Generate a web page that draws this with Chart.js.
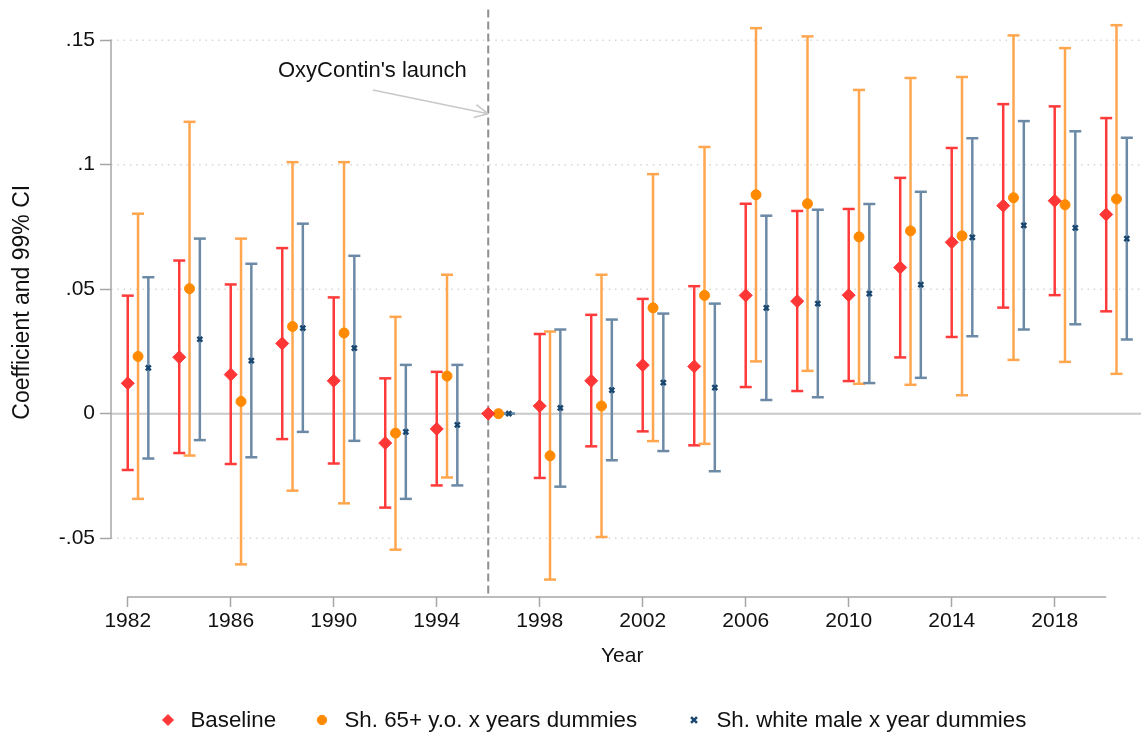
<!DOCTYPE html>
<html>
<head>
<meta charset="utf-8">
<title>Event-study coefficients</title>
<script src="https://cdn.jsdelivr.net/npm/chart.js@4.4.1/dist/chart.umd.min.js"></script>
<style>
  html, body { margin: 0; padding: 0; background: #fff; }
</style>
</head>
<body>
<canvas id="chartCoef" width="1141" height="737"></canvas>
<script>
(function () {
  'use strict';

  // Event years (1996 = reference year, normalised to 0)
  var YEARS = [1982, 1984, 1986, 1988, 1990, 1992, 1994, 1996, 1998, 2000,
               2002, 2004, 2006, 2008, 2010, 2012, 2014, 2016, 2018, 2020];

  var BASE_COEF = [0.0122, 0.0227, 0.0157, 0.0282, 0.0132, -0.0118, -0.0061, 0, 0.0031, 0.0132,
                   0.0195, 0.0190, 0.0475, 0.0452, 0.0476, 0.0587, 0.0688, 0.0835, 0.0855, 0.0800];
  var BASE_LO = [-0.0226, -0.0158, -0.0202, -0.0102, -0.0200, -0.0377, -0.0288, 0, -0.0258, -0.0131,
                 -0.0071, -0.0127, 0.0107, 0.0091, 0.0131, 0.0226, 0.0308, 0.0426, 0.0476, 0.0411];
  var BASE_HI = [0.0474, 0.0615, 0.0519, 0.0665, 0.0467, 0.0142, 0.0168, 0, 0.0320, 0.0397,
                 0.0461, 0.0512, 0.0843, 0.0814, 0.0822, 0.0947, 0.1067, 0.1243, 0.1234, 0.1187];

  var OLD_COEF = [0.0230, 0.0502, 0.0049, 0.0350, 0.0324, -0.0078, 0.0151, 0, -0.0169, 0.0031,
                  0.0425, 0.0475, 0.0879, 0.0843, 0.0710, 0.0734, 0.0714, 0.0867, 0.0839, 0.0862];
  var OLD_LO = [-0.0342, -0.0168, -0.0605, -0.0309, -0.0360, -0.0546, -0.0256, 0, -0.0666, -0.0495,
                -0.0110, -0.0121, 0.0210, 0.0172, 0.0120, 0.0116, 0.0074, 0.0216, 0.0208, 0.0160];
  var OLD_HI = [0.0803, 0.1172, 0.0703, 0.1010, 0.1010, 0.0389, 0.0558, 0, 0.0330, 0.0558,
                0.0962, 0.1071, 0.1548, 0.1515, 0.1300, 0.1348, 0.1352, 0.1519, 0.1468, 0.1560];

  var WM_COEF = [0.0184, 0.0299, 0.0213, 0.0344, 0.0263, -0.0073, -0.0045, 0, 0.0023, 0.0095,
                 0.0125, 0.0105, 0.0425, 0.0442, 0.0482, 0.0518, 0.0708, 0.0756, 0.0746, 0.0703];
  var WM_LO = [-0.0180, -0.0106, -0.0175, -0.0073, -0.0109, -0.0342, -0.0288, 0, -0.0293, -0.0187,
               -0.0150, -0.0231, 0.0055, 0.0066, 0.0123, 0.0144, 0.0311, 0.0338, 0.0359, 0.0298];
  var WM_HI = [0.0548, 0.0703, 0.0602, 0.0763, 0.0634, 0.0196, 0.0196, 0, 0.0338, 0.0378,
               0.0402, 0.0442, 0.0795, 0.0819, 0.0842, 0.0891, 0.1106, 0.1175, 0.1134, 0.1108];

  var X_TICKS = [1982, 1986, 1990, 1994, 1998, 2002, 2006, 2010, 2014, 2018];
  var Y_TICKS = [-0.05, 0, 0.05, 0.1, 0.15];
  var Y_LABELS = ['-.05', '0', '.05', '.1', '.15'];

  var LAUNCH_YEAR = 1996;
  var LAUNCH_TEXT = "OxyContin's launch";

  var FONT = "'Liberation Sans', Arial, sans-serif";
  var TEXT = '#111111';
  var AXIS = '#a6a6a6';

  // horizontal dodge (in years) so the three estimates sit side by side
  var DODGE = [0, 0.4, 0.8];

  // legend key columns (marker centres) along the bottom row
  var LEGEND_COLS = [168, 322, 694];
  var LEGEND_Y = 720;

  function points(coef, dodge) {
    return YEARS.map(function (yr, i) { return { x: yr + dodge, y: coef[i] }; });
  }

  function seg(ctx, x1, y1, x2, y2) {
    ctx.beginPath();
    ctx.moveTo(x1, y1);
    ctx.lineTo(x2, y2);
    ctx.stroke();
  }

  function marker(ctx, ds, radius, x, y) {
    ctx.save();
    ctx.fillStyle = ds.backgroundColor;
    ctx.strokeStyle = ds.borderColor;
    ctx.lineWidth = ds.borderWidth;
    Chart.helpers.drawPoint(ctx, { pointStyle: ds.pointStyle, radius: radius, borderWidth: ds.borderWidth, rotation: 0 }, x, y);
    ctx.restore();
  }

  // no automatic label padding: the plot area is laid out by hand
  function noPad(scale) {
    scale.paddingTop = 0;
    scale.paddingBottom = 0;
    scale.paddingLeft = 0;
    scale.paddingRight = 0;
  }

  // error bars, grid, axes, reference lines, annotation and legend
  var coefPlot = {
    id: 'coefPlot',
    beforeDatasetsDraw: function (chart) {
      var ctx = chart.ctx, xs = chart.scales.x, ys = chart.scales.y, a = chart.chartArea;
      var right = chart.width;
      ctx.save();
      ctx.lineCap = 'butt';

      // dotted horizontal grid, run out to the canvas edge
      ctx.strokeStyle = '#d6d6d6';
      ctx.lineWidth = 1.5;
      ctx.setLineDash([1.5, 4.8]);
      Y_TICKS.forEach(function (v) {
        if (v === 0) return;
        var py = ys.getPixelForValue(v);
        seg(ctx, a.left, py, right, py);
      });
      ctx.setLineDash([]);

      // zero line
      ctx.strokeStyle = '#c8c8c8';
      ctx.lineWidth = 2;
      var y0 = ys.getPixelForValue(0);
      seg(ctx, a.left, y0, right, y0);

      // axis lines only span the labelled range
      ctx.strokeStyle = AXIS;
      ctx.lineWidth = 1.5;
      seg(ctx, a.left, ys.getPixelForValue(Y_TICKS[Y_TICKS.length - 1]) - 0.75,
          a.left, ys.getPixelForValue(Y_TICKS[0]) + 0.75);
      seg(ctx, xs.getPixelForValue(X_TICKS[0]) - 0.75, a.bottom,
          xs.getPixelForValue(YEARS[YEARS.length - 1]), a.bottom);

      // launch year
      var xl = xs.getPixelForValue(LAUNCH_YEAR);
      ctx.strokeStyle = '#8f8f8f';
      ctx.lineWidth = 2;
      ctx.setLineDash([8, 4]);
      seg(ctx, xl, a.top + 2, xl, a.bottom);
      ctx.setLineDash([]);

      // confidence intervals with caps
      chart.data.datasets.forEach(function (ds, d) {
        var meta = chart.getDatasetMeta(d);
        ctx.strokeStyle = ds.ciColor;
        ctx.lineWidth = 2.5;
        meta.data.forEach(function (pt, i) {
          var lo = ys.getPixelForValue(ds.ciLow[i]);
          var hi = ys.getPixelForValue(ds.ciHigh[i]);
          seg(ctx, pt.x, lo, pt.x, hi);
          seg(ctx, pt.x - 6, lo, pt.x + 6, lo);
          seg(ctx, pt.x - 6, hi, pt.x + 6, hi);
        });
      });
      ctx.restore();
    },
    afterDraw: function (chart) {
      var ctx = chart.ctx, xs = chart.scales.x, ys = chart.scales.y;
      ctx.save();

      // annotation with arrow to the launch line
      ctx.font = '22px ' + FONT;
      ctx.fillStyle = TEXT;
      ctx.textAlign = 'center';
      ctx.textBaseline = 'middle';
      ctx.fillText(LAUNCH_TEXT, xs.getPixelForValue(1991.5), ys.getPixelForValue(0.1375));

      var x1 = xs.getPixelForValue(1991.52), y1 = ys.getPixelForValue(0.130);
      var x2 = xs.getPixelForValue(LAUNCH_YEAR), y2 = ys.getPixelForValue(0.1204);
      var ang = Math.atan2(y2 - y1, x2 - x1);
      ctx.strokeStyle = '#c8c8c8';
      ctx.lineWidth = 1.5;
      seg(ctx, x1, y1, x2, y2);
      seg(ctx, x2, y2, x2 - 15 * Math.cos(ang - 0.45), y2 - 15 * Math.sin(ang - 0.45));
      seg(ctx, x2, y2, x2 - 15 * Math.cos(ang + 0.45), y2 - 15 * Math.sin(ang + 0.45));

      // legend row
      ctx.textAlign = 'left';
      ctx.font = '22.3px ' + FONT;
      chart.data.datasets.forEach(function (ds, d) {
        var cx = LEGEND_COLS[d];
        marker(ctx, ds, ds.legendRadius, cx, LEGEND_Y);
        ctx.fillStyle = TEXT;
        ctx.fillText(ds.label, cx + 22.5, LEGEND_Y + 1);
      });
      ctx.restore();
    }
  };

  new Chart(document.getElementById('chartCoef').getContext('2d'), {
    type: 'scatter',
    data: {
      datasets: [
        {
          label: 'Baseline',
          data: points(BASE_COEF, DODGE[0]),
          ciLow: BASE_LO, ciHigh: BASE_HI, ciColor: '#ff3a3a',
          pointStyle: 'rectRot', pointRadius: 6.5, legendRadius: 5.5,
          backgroundColor: '#ff3636', borderColor: '#ff3636', borderWidth: 1
        },
        {
          label: 'Sh. 65+ y.o. x years dummies',
          data: points(OLD_COEF, DODGE[1]),
          ciLow: OLD_LO, ciHigh: OLD_HI, ciColor: '#ffa64f',
          pointStyle: 'circle', pointRadius: 5, legendRadius: 4.7,
          backgroundColor: '#ff8a00', borderColor: '#ff8a00', borderWidth: 1
        },
        {
          label: 'Sh. white male x year dummies',
          data: points(WM_COEF, DODGE[2]),
          ciLow: WM_LO, ciHigh: WM_HI, ciColor: '#6c8aa6',
          pointStyle: 'crossRot', pointRadius: 3.5, legendRadius: 4.2,
          backgroundColor: '#1a476f', borderColor: '#1a476f', borderWidth: 2.5
        }
      ]
    },
    options: {
      responsive: false,
      animation: false,
      clip: false,
      layout: { padding: { top: 5, right: 0, bottom: 60, left: 0 } },
      plugins: {
        legend: { display: false },
        tooltip: { enabled: false }
      },
      scales: {
        x: {
          type: 'linear',
          min: 1981.35,
          max: 2021.06,
          afterBuildTicks: function (scale) {
            scale.ticks = X_TICKS.map(function (v) { return { value: v }; });
          },
          afterFit: function (scale) { scale.height = 80; noPad(scale); },
          grid: {
            drawOnChartArea: false,
            drawTicks: true,
            tickLength: 10,
            tickColor: AXIS,
            tickWidth: 1.5
          },
          border: { display: false },
          ticks: {
            color: TEXT,
            font: { family: FONT, size: 21 },
            padding: 2,
            maxRotation: 0,
            autoSkip: false,
            callback: function (v) { return String(v); }
          },
          title: {
            display: true,
            text: 'Year',
            color: TEXT,
            font: { family: FONT, size: 21 },
            padding: { top: 0, bottom: 8 }
          }
        },
        y: {
          min: -0.0736,
          max: 0.1631,
          afterBuildTicks: function (scale) {
            scale.ticks = Y_TICKS.map(function (v) { return { value: v }; });
          },
          afterFit: function (scale) { scale.width = 111; noPad(scale); },
          grid: {
            drawOnChartArea: false,
            drawTicks: true,
            tickLength: 11,
            tickColor: AXIS,
            tickWidth: 1.5
          },
          border: { display: false },
          ticks: {
            color: TEXT,
            font: { family: FONT, size: 21 },
            padding: 5,
            callback: function (v) {
              var i = Y_TICKS.indexOf(v);
              return i >= 0 ? Y_LABELS[i] : '';
            }
          },
          title: {
            display: true,
            text: 'Coefficient and 99% CI',
            color: TEXT,
            font: { family: FONT, size: 23 },
            padding: { top: 9, bottom: 0 }
          }
        }
      }
    },
    plugins: [coefPlot]
  });
})();
</script>
</body>
</html>
